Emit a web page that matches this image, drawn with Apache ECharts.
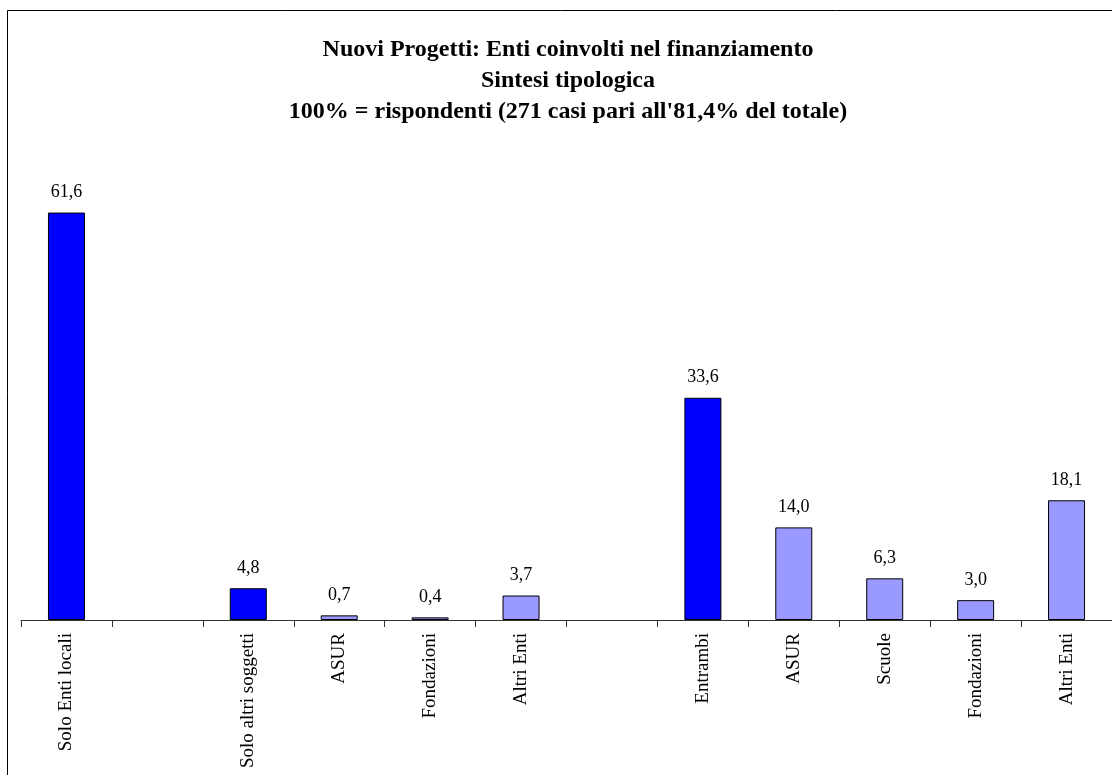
<!DOCTYPE html>
<html>
<head>
<meta charset="utf-8">
<script src="https://cdn.jsdelivr.net/npm/echarts@6/dist/echarts.min.js"></script>
<style>
html,body{margin:0;padding:0;background:#fff;}
#chart{width:1112px;height:775px;}
</style>
</head>
<body>
<div id="chart"></div>
<script>
// Data
const titleLines = [
  "Nuovi Progetti: Enti coinvolti nel finanziamento",
  "Sintesi tipologica",
  "100% = rispondenti (271 casi pari all'81,4% del totale)"
];
const categories = ["Solo Enti locali", "", "Solo altri soggetti", "ASUR", "Fondazioni", "Altri Enti", "", "Entrambi", "ASUR", "Scuole", "Fondazioni", "Altri Enti"];
const values = [61.6, null, 4.8, 0.7, 0.4, 3.7, null, 33.6, 14.0, 6.3, 3.0, 18.1];
const kinds = ["main", "", "main", "sub", "sub", "sub", "", "main", "sub", "sub", "sub", "sub"];

const colorFor = { main: "#0000FF", sub: "#9999FF" };
const FONT = "'Liberation Serif','Times New Roman',serif";

const chart = echarts.init(document.getElementById('chart'), null, { renderer: 'canvas' });
chart.setOption({
  animation: false,
  backgroundColor: '#ffffff',
  grid: { left: 21, right: 0, top: 157, bottom: 155, containLabel: false },
  xAxis: {
    type: 'category',
    data: categories,
    axisLine: { show: true, lineStyle: { color: '#333', width: 1 } },
    axisTick: { show: true, alignWithLabel: false, length: 7, lineStyle: { color: '#333' } },
    axisLabel: { rotate: 90, interval: 0, margin: 13, fontFamily: FONT, fontSize: 19, color: '#000' }
  },
  yAxis: {
    type: 'value', min: 0, max: 70, show: false,
    splitLine: { show: false }
  },
  series: [{
    type: 'bar',
    barWidth: 37,
    data: values.map((v, i) => ({
      value: v,
      itemStyle: { color: colorFor[kinds[i]] || '#9999FF' }
    })),
    itemStyle: { borderColor: '#000', borderWidth: 1 },
    label: {
      show: true, position: 'top', distance: 11,
      fontFamily: FONT, fontSize: 18, color: '#000',
      formatter: p => p.value == null ? '' : p.value.toFixed(1).replace('.', ',')
    }
  }],
  graphic: [
    {
      type: 'rect', silent: true,
      shape: { x: 7.5, y: 10.5, width: 1200, height: 900 },
      style: { fill: 'none', stroke: '#000', lineWidth: 1 }
    },
    {
      type: 'text', silent: true,
      style: {
        text: titleLines.join('\n'),
        x: 568, y: 34,
        textAlign: 'center', textVerticalAlign: 'top',
        font: "bold 24px 'Liberation Serif','Times New Roman',serif",
        lineHeight: 31, fill: '#000'
      }
    }
  ]
});
</script>
</body>
</html>
